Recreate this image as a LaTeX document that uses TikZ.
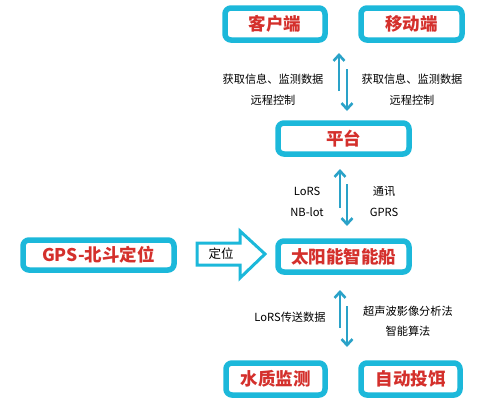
\documentclass[tikz,border=0pt]{standalone}
\usepackage{fontspec}
\newfontfamily\cjk{Noto Sans CJK SC}
\usetikzlibrary{arrows.meta}
\definecolor{boxcyan}{HTML}{1CB8DA}
\definecolor{arrcyan}{HTML}{2AA2C8}
\definecolor{txtred}{HTML}{D4302C}
\tikzset{
  box/.style={draw=boxcyan, line width=5.5pt, rounded corners=6pt, fill=white,
    minimum height=32pt, inner sep=0pt, font=\cjk\bfseries\fontsize{17.5}{17.5}\selectfont, text=txtred},
  lbl/.style={font=\cjk\fontsize{11.2}{12}\selectfont, text=black, inner sep=0pt},
  conn/.style={draw=arrcyan, line width=2.6pt, -{Straight Barb[length=6pt,width=11pt,line width=2.6pt]}},
}
\begin{document}
\begin{tikzpicture}[x=1pt,y=-1pt]
\useasboundingbox (0,0) rectangle (483,407);
% boxes
\node[box, minimum width=100pt] (kh) at (275,24) {客户端};
\node[box, minimum width=101pt] (yd) at (411.5,24) {移动端};
\node[box, minimum width=131pt, minimum height=31pt] (pt) at (343.5,138.5) {平台};
\node[box, minimum width=151pt, minimum height=30pt] (gps) at (98.5,255) {GPS-北斗定位};
\node[box, minimum width=131pt, minimum height=31pt] (ship) at (343.5,256.5) {太阳能智能船};
\node[box, minimum width=99pt] (sz) at (275.5,379) {水质监测};
\node[box, minimum width=99pt] (zd) at (410.5,379) {自动投饵};
% arrow coordinates
\coordinate (a1s) at (339,91); \coordinate (a1e) at (339,53);
\coordinate (a2s) at (347,69); \coordinate (a2e) at (347,111);
\coordinate (b1s) at (340,208); \coordinate (b1e) at (340,169);
\coordinate (b2s) at (347,184); \coordinate (b2e) at (347,226);
\coordinate (c1s) at (340,328); \coordinate (c1e) at (340,290);
\coordinate (c2s) at (347,306); \coordinate (c2e) at (347,347);
\draw[conn] (a1s) -- (a1e);
\draw[conn] (a2s) -- (a2e);
\draw[conn] (b1s) -- (b1e);
\draw[conn] (b2s) -- (b2e);
\draw[conn] (c1s) -- (c1e);
\draw[conn] (c2s) -- (c2e);
% labels
\node[lbl] (l1) at (273,79) {获取信息、监测数据};
\node[lbl] (l2) at (273,100) {远程控制};
\node[lbl] (r1) at (412,79) {获取信息、监测数据};
\node[lbl] (r2) at (412,100) {远程控制};
\node[lbl] (m1) at (307,191) {LoRS};
\node[lbl] (m2) at (307,212) {NB-lot};
\node[lbl] (m3) at (384,191) {通讯};
\node[lbl] (m4) at (384,212) {GPRS};
\node[lbl] (d1) at (290,317) {LoRS传送数据};
\node[lbl] (d2) at (408,311) {超声波影像分析法};
\node[lbl] (d3) at (408,331) {智能算法};
% big arrow
\draw[draw=boxcyan, line width=3pt, fill=white, line join=miter]
  (197,243) -- (240,243) -- (240,231) -- (265,254) -- (240,278) -- (240,265) -- (197,265) -- cycle;
\node[lbl, font=\cjk\fontsize{12.5}{12.5}\selectfont] (dw) at (221,254) {定位};
\end{tikzpicture}
\end{document}
